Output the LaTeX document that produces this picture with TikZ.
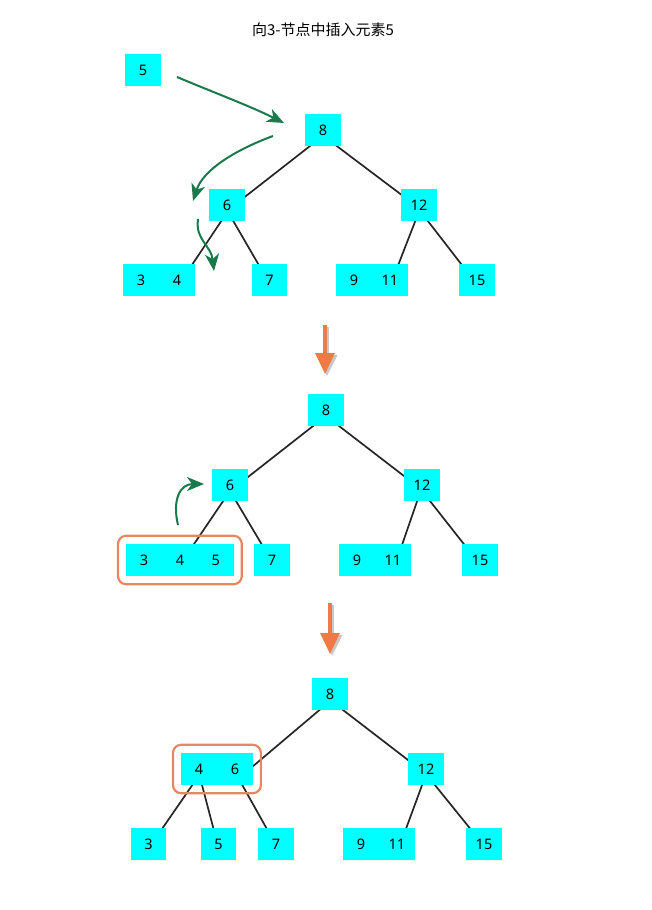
\documentclass[tikz,border=0pt]{standalone}
\usepackage{fontspec}
\setmainfont{Noto Sans}
\newfontfamily\cjk{Noto Sans CJK SC}
\usetikzlibrary{positioning,arrows.meta,fit}
\pgfdeclarelayer{background}
\pgfsetlayers{background,main}
\definecolor{keycyan}{RGB}{0,255,255}
\definecolor{movegreen}{RGB}{27,122,75}
\definecolor{steporange}{RGB}{240,122,70}
\definecolor{ringorange}{RGB}{232,134,95}
\tikzset{
  key/.style={fill=keycyan,minimum width=35.5pt,minimum height=32pt,inner sep=0pt,
    font=\fontsize{14.5}{16}\selectfont},
  edge/.style={line width=1.7pt,black!85},
  move/.style={movegreen,line width=2pt,-{Stealth[length=17pt,width=14pt,inset=5pt]}},
  nextstep/.style={steporange,line width=3.5pt,-{Triangle[length=21pt,width=19pt]}},
  stepshadow/.style={black!22,line width=4pt,-{Triangle[length=21pt,width=20pt]}},
  ring/.style={draw=ringorange,line width=2.2pt,rounded corners=8pt,inner sep=8pt},
}
\begin{document}
\begin{tikzpicture}[x=1pt,y=-1pt]
  \useasboundingbox (0,0) rectangle (651,910);
  \node[font=\cjk\fontsize{15}{17}\selectfont] (title) at (323,30) {向3-节点中插入元素5};

  % first tree: 5 goes down to the 3-node
  \node[key] (in5) at (143,70) {5};
  \node[key] (a8) at (323,130) {8};
  \node[key] (a6) at (227,205) {6};
  \node[key] (a12) at (419,205) {12};
  \node[key] (a3) at (141,280) {3};
  \node[key,right=0pt of a3] (a4) {4};
  \node[key] (a7) at (269.5,280) {7};
  \node[key] (a9) at (354,280) {9};
  \node[key,right=0pt of a9] (a11) {11};
  \node[key] (a15) at (477,280) {15};
  \begin{pgfonlayer}{background}
    \draw[edge] ([xshift=7.5pt]a8.center) -- ([xshift=7.5pt]a6.center);
    \draw[edge] ([xshift=-7.5pt]a8.center) -- ([xshift=-4pt]a12.center);
    \draw[edge] ([xshift=5pt]a6.center) -- ([xshift=5pt]a4.center);
    \draw[edge] ([xshift=-3pt]a6.center) -- ([xshift=-2pt]a7.center);
    \draw[edge] ([xshift=2.5pt]a12.center) -- ([xshift=2.5pt]a11.center);
    \draw[edge] ([xshift=-3.5pt]a12.center) -- ([xshift=-3.5pt]a15.center);
  \end{pgfonlayer}
  \coordinate (m1s) at (177,77);   \coordinate (m1e) at (284,123);
  \coordinate (m2s) at (273,136);  \coordinate (m2e) at (193,201);
  \coordinate (m3s) at (198,219);  \coordinate (m3e) at (214,271);
  \draw[move] (m1s) .. controls (215,93) and (250,106) .. (m1e);
  \draw[move] (m2s) .. controls (235,150) and (203,170) .. (m2e);
  \draw[move] (m3s) .. controls (195,240) and (211,245) .. (m3e);

  % step arrow
  \coordinate (s1s) at (325,325); \coordinate (s1e) at (325,374);
  \draw[stepshadow] ([shift={(2,2)}]s1s) -- ([shift={(2,2)}]s1e);
  \draw[nextstep] (s1s) -- (s1e);

  % second tree: 3-4-5 is a 4-node
  \node[key] (b8) at (326,410) {8};
  \node[key] (b6) at (230,485) {6};
  \node[key] (b12) at (422,485) {12};
  \node[key] (b3) at (144,560) {3};
  \node[key,right=0pt of b3] (b4) {4};
  \node[key,right=0pt of b4] (b5) {5};
  \node[key] (b7) at (272,560) {7};
  \node[key] (b9) at (357,560) {9};
  \node[key,right=0pt of b9] (b11) {11};
  \node[key] (b15) at (480,560) {15};
  \begin{pgfonlayer}{background}
    \draw[edge] ([xshift=7.5pt]b8.center) -- ([xshift=7.8pt]b6.center);
    \draw[edge] ([xshift=-7.8pt]b8.center) -- ([xshift=-6.3pt]b12.center);
    \draw[edge] ([xshift=4pt]b6.center) -- ([xshift=3.3pt]b4.center);
    \draw[edge] ([xshift=-3.5pt]b6.center) -- ([xshift=-1pt]b7.center);
    \draw[edge] ([xshift=0.7pt]b12.center) -- ([xshift=3.9pt]b11.center);
    \draw[edge] ([xshift=-4.6pt]b12.center) -- ([xshift=-3.6pt]b15.center);
  \end{pgfonlayer}
  \node[ring,fit=(b3)(b5)] (ring1) {};
  \coordinate (m4s) at (178,525); \coordinate (m4e) at (204,484);
  \draw[move] (m4s) .. controls (172,500) and (180,484) .. (m4e);

  % step arrow
  \coordinate (s2s) at (330,603); \coordinate (s2e) at (330,654);
  \draw[stepshadow] ([shift={(2,2)}]s2s) -- ([shift={(2,2)}]s2e);
  \draw[nextstep] (s2s) -- (s2e);

  % third tree: 4 moves up into the parent
  \node[key] (c8) at (330,694) {8};
  \node[key] (c4) at (199,769) {4};
  \node[key,right=0pt of c4] (c6) {6};
  \node[key] (c12) at (426,769) {12};
  \node[key] (c3) at (148.5,844) {3};
  \node[key] (c5) at (218.5,844) {5};
  \node[key] (c7) at (276,844) {7};
  \node[key] (c9) at (361,844) {9};
  \node[key,right=0pt of c9] (c11) {11};
  \node[key] (c15) at (484,844) {15};
  \begin{pgfonlayer}{background}
    \draw[edge] ([xshift=8.4pt]c8.center) -- ([xshift=14.8pt]c6.center);
    \draw[edge] ([xshift=-7.8pt]c8.center) -- ([xshift=-6.3pt]c12.center);
    \draw[edge] ([xshift=4.4pt]c4.center) -- ([xshift=3.1pt]c3.center);
    \draw[edge] ([xshift=-1.2pt]c4.center) -- ([xshift=-1pt]c5.center);
    \draw[edge] ([xshift=-1.6pt]c6.center) -- ([xshift=-0.7pt]c7.center);
    \draw[edge] ([xshift=2pt]c12.center) -- ([xshift=3.5pt]c11.center);
    \draw[edge] ([xshift=-4pt]c12.center) -- ([xshift=-1.4pt]c15.center);
  \end{pgfonlayer}
  \node[ring,fit=(c4)(c6)] (ring2) {};
\end{tikzpicture}
\end{document}
